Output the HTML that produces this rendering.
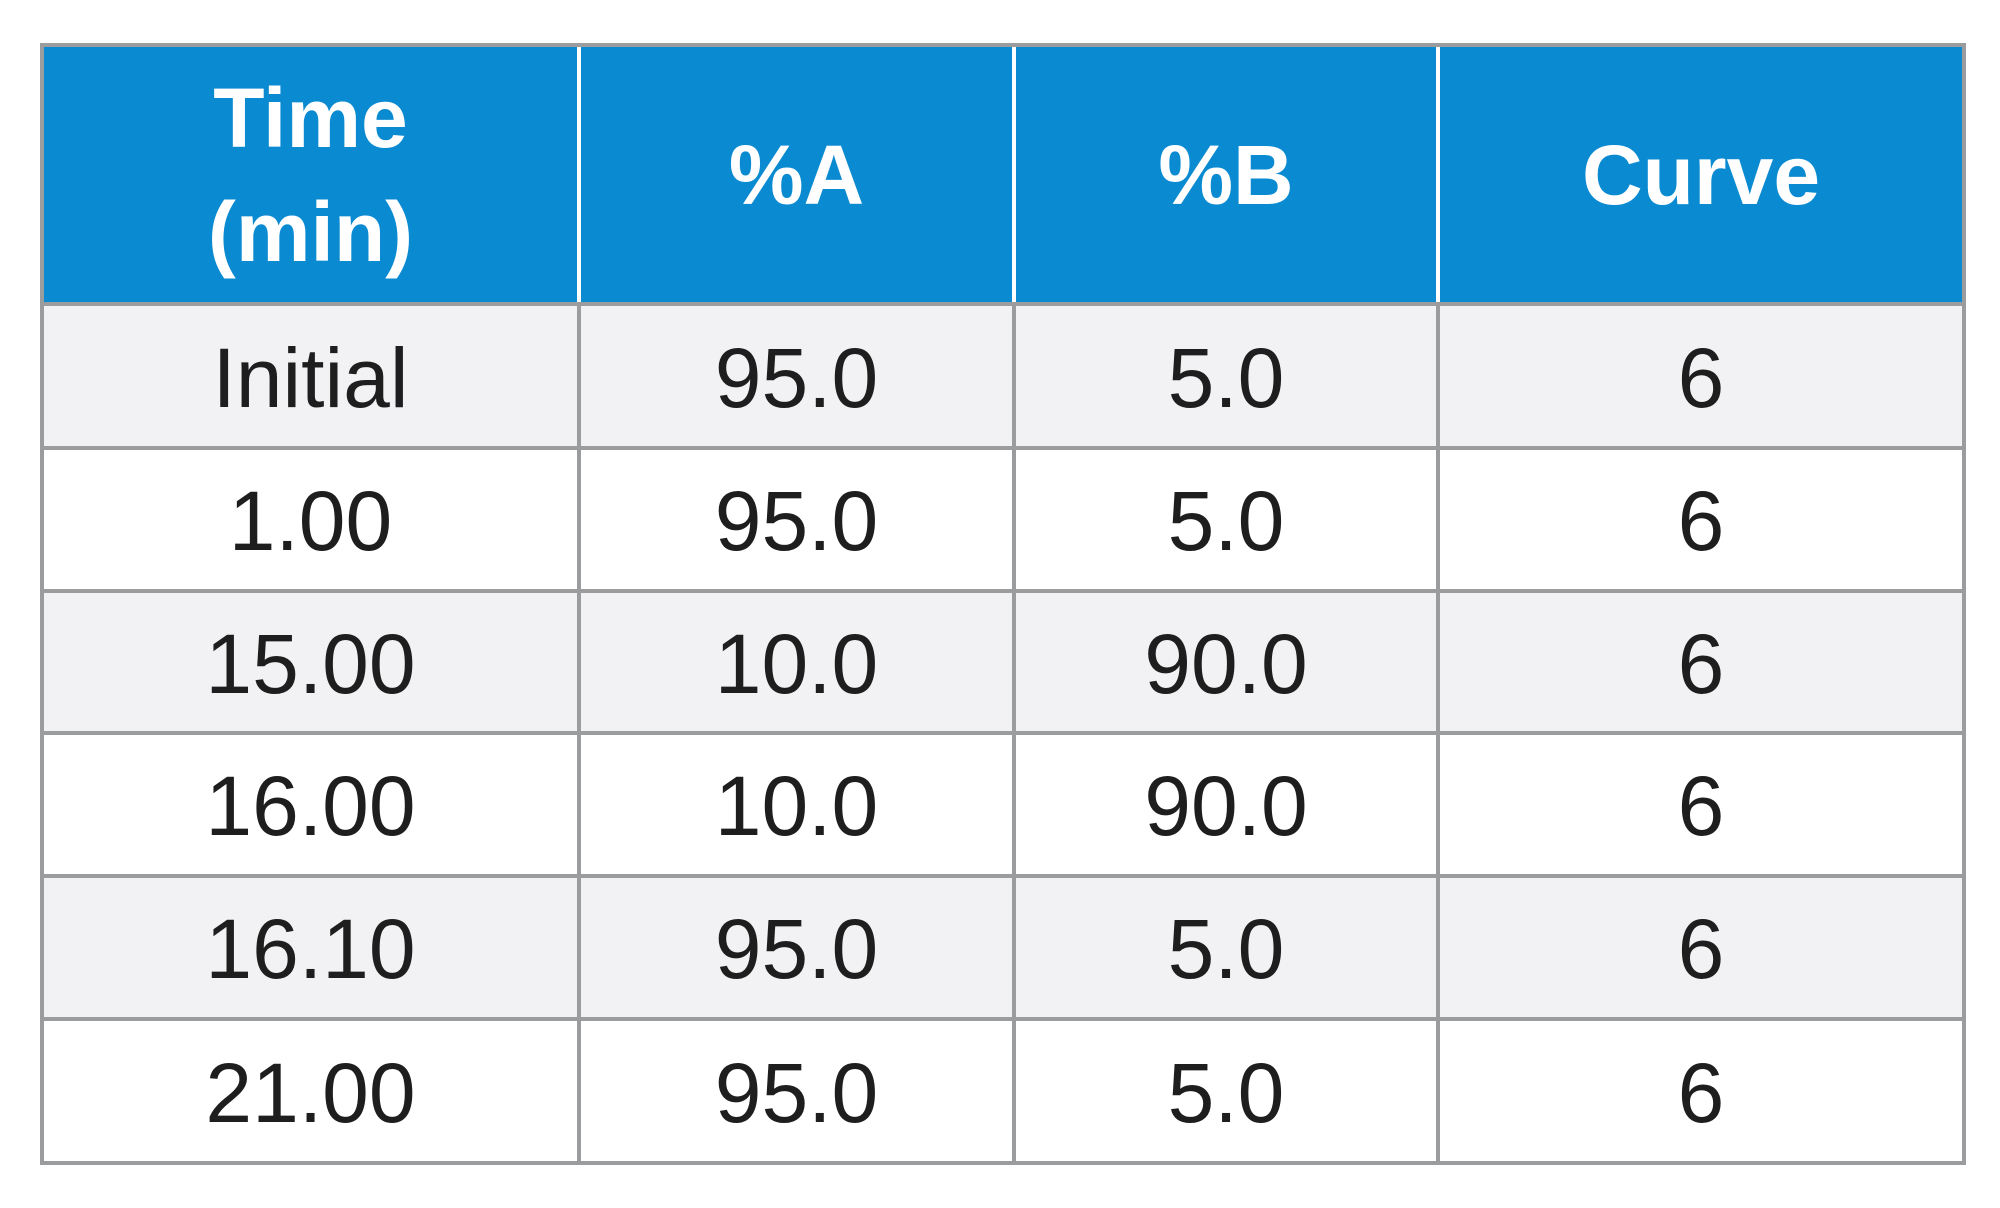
<!DOCTYPE html>
<html><head><meta charset="utf-8"><style>
html,body{margin:0;padding:0;background:#fff;}
body{width:2000px;height:1208px;position:relative;overflow:hidden;font-family:"Liberation Sans",sans-serif;}
.c{position:absolute;display:flex;align-items:center;justify-content:center;text-align:center;box-sizing:border-box;}
.h{background:#0a8ad1;color:#fff;font-weight:bold;font-size:84px;line-height:114px;}
.b{color:#1e1e1e;font-size:84px;}
.hl{position:absolute;background:#9a9c9e;}
.wl{position:absolute;background:#fff;}
</style></head><body>
<div id="t"></div>
<script>
const headers=["Time<br>(min)","%A","%B","Curve"];
const times=["Initial","1.00","15.00","16.00","16.10","21.00"];
const pctA=["95.0","95.0","10.0","10.0","95.0","95.0"];
const pctB=["5.0","5.0","90.0","90.0","5.0","5.0"];
const curve=["6","6","6","6","6","6"];
const t=document.getElementById('t');
const xs=[42,579,1014,1438,1964];
const ys=[45,304,448,591,733,876,1019,1163];
const names=["time","pct-a","pct-b","curve"];
for(let c=0;c<4;c++){
  const d=document.createElement('div');
  d.className='c h';
  
  
  d.style.left=xs[c]+'px';d.style.top=ys[0]+'px';d.style.width=(xs[c+1]-xs[c])+'px';d.style.height=(ys[1]-ys[0])+'px';
  d.innerHTML=headers[c];t.appendChild(d);
}
const cols=[times,pctA,pctB,curve];
for(let r=0;r<times.length;r++){
  const bg=document.createElement('div');
  
  
  bg.style.cssText='position:absolute;left:'+xs[0]+'px;top:'+ys[r+1]+'px;width:'+(xs[4]-xs[0])+'px;height:'+(ys[r+2]-ys[r+1])+'px;background:'+(r%2===0?'#f2f2f4':'#fff');
  t.appendChild(bg);
  for(let c=0;c<4;c++){
    const d=document.createElement('div');
    d.className='c b';
    
    
    d.style.left=xs[c]+'px';d.style.top=(ys[r+1]+2)+'px';d.style.width=(xs[c+1]-xs[c])+'px';d.style.height=(ys[r+2]-ys[r+1])+'px';
    d.textContent=cols[c][r];t.appendChild(d);
  }
}
for(let i=1;i<ys.length;i++){
  const l=document.createElement('div');l.className='hl';
  
  
  l.style.cssText+='left:'+xs[0]+'px;top:'+(ys[i]-2)+'px;width:'+(xs[4]-xs[0])+'px;height:4px;';
  t.appendChild(l);
}
const topBorder=document.createElement('div');topBorder.className='hl';


topBorder.style.cssText+='left:'+xs[0]+'px;top:'+(ys[0]-2)+'px;width:'+(xs[4]-xs[0])+'px;height:4px;';
t.appendChild(topBorder);
for(let i=0;i<xs.length;i++){
  const inner=i>0&&i<xs.length-1;
  const l=document.createElement('div');l.className='hl';
  
  
  const y0=inner?ys[1]:ys[0]-2;
  l.style.cssText+='left:'+(xs[i]-2)+'px;top:'+y0+'px;width:4px;height:'+(ys[7]-y0+2)+'px;';
  t.appendChild(l);
  if(inner){
    const w=document.createElement('div');w.className='wl';
    
    
    w.style.cssText+='left:'+(xs[i]-2)+'px;top:'+(ys[0]+2)+'px;width:4px;height:'+(ys[1]-ys[0]-4)+'px;';
    t.appendChild(w);
  }
}
</script>
</body></html>
